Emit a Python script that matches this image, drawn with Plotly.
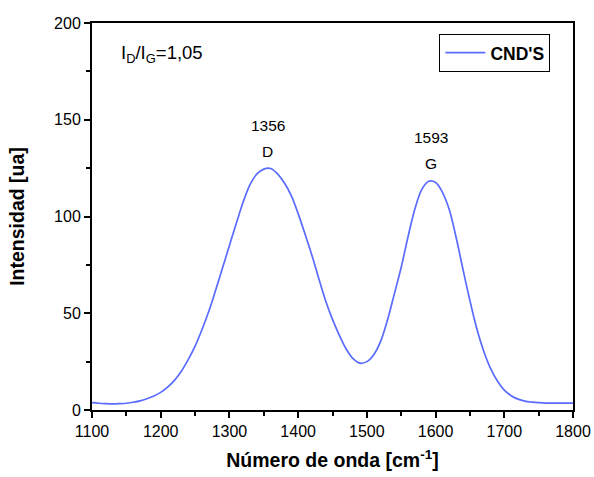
import plotly.graph_objects as go

wavenumber = [1100, 1110, 1120, 1130, 1140, 1150, 1160, 1170, 1180, 1190,
              1200, 1210, 1220, 1230, 1240, 1250, 1260, 1270, 1280, 1290,
              1300, 1310, 1320, 1330, 1340, 1350, 1360, 1370, 1380, 1390,
              1400, 1410, 1420, 1430, 1440, 1450, 1460, 1470, 1480, 1490,
              1500, 1510, 1520, 1530, 1540, 1550, 1560, 1570, 1580, 1590,
              1600, 1610, 1620, 1630, 1640, 1650, 1660, 1670, 1680, 1690,
              1700, 1710, 1720, 1730, 1740, 1750, 1760, 1770, 1780, 1790, 1800]
intensity = [3.8, 3.5, 3.3, 3.2, 3.3, 3.5, 4.0, 4.7, 5.8, 7.2,
             9.1, 11.8, 15.3, 20.0, 26.0, 33.0, 41.5, 51.0, 62.0, 73.5,
             85.0, 96.5, 107.5, 116.5, 122.0, 124.5, 124.8, 122.0, 117.3, 110.8,
             101.5, 91.0, 80.0, 68.0, 56.5, 46.8, 38.6, 31.5, 26.5, 24.2,
             25.0, 28.6, 35.5, 46.5, 60.0, 73.8, 89.7, 104.0, 114.0, 118.2,
             117.6, 112.5, 103.5, 89.0, 72.5, 56.5, 42.0, 30.5, 21.5, 15.0,
             10.3, 7.4, 5.6, 4.6, 4.1, 3.8, 3.6, 3.6, 3.6, 3.6, 3.6]
series_name = "CND'S"
peak_positions = [1356, 1593]
peak_names = ["D", "G"]
peak_number_y = [146.8, 140.7]
peak_name_y = [133.5, 127.5]
ratio_text = "I<sub>D</sub>/I<sub>G</sub>=1,05"

blue = "#5a6cff"
font_family = "Liberation Sans, Arial, sans-serif"

fig = go.Figure()
fig.add_trace(go.Scatter(x=wavenumber, y=intensity, mode="lines",
                         name="<b>" + series_name + "</b>",
                         line=dict(color=blue, width=1.7, shape="spline", smoothing=1.0)))

for pos, nm, ny, ly in zip(peak_positions, peak_names, peak_number_y, peak_name_y):
    fig.add_annotation(x=pos, y=ny, text=str(pos), showarrow=False,
                       font=dict(size=15.5, color="black", family=font_family),
                       xanchor="center", yanchor="middle")
    fig.add_annotation(x=pos, y=ly, text=nm, showarrow=False,
                       font=dict(size=15.5, color="black", family=font_family),
                       xanchor="center", yanchor="middle")

fig.add_annotation(x=1140, y=184, text=ratio_text, showarrow=False,
                   xanchor="left", yanchor="middle",
                   font=dict(size=18.5, color="black", family=font_family))

axis_common = dict(showline=True, linecolor="black", linewidth=2, mirror=True,
                   ticks="outside", ticklen=6, tickwidth=2, tickcolor="black",
                   showgrid=False, zeroline=False, automargin=False,
                   tickfont=dict(size=16, color="black", family=font_family))

fig.update_xaxes(range=[1100, 1800], dtick=100, tick0=1100,
                 minor=dict(ticks="outside", ticklen=4, tickwidth=2, tickcolor="black", dtick=50),
                 title=dict(text="<b>Número de onda [cm<sup>-1</sup>]</b>",
                            font=dict(size=19.5, color="black", family=font_family), standoff=14),
                 **axis_common)
fig.update_yaxes(range=[0, 200], dtick=50,
                 minor=dict(ticks="outside", ticklen=4, tickwidth=2, tickcolor="black", dtick=25),
                 title=dict(text="<b>Intensidad [ua]</b>",
                            font=dict(size=19.5, color="black", family=font_family), standoff=24),
                 **axis_common)

fig.update_layout(width=594, height=477, margin=dict(l=92, r=21, t=23, b=67),
                  plot_bgcolor="white", paper_bgcolor="white",
                  showlegend=True,
                  legend=dict(x=0.953, y=0.972, xanchor="right", yanchor="top",
                              bordercolor="black", borderwidth=1, bgcolor="white",
                              font=dict(size=17.5, color="black", family=font_family),
                              itemwidth=40),
                  font=dict(family=font_family))

fig.write_html("out.html", config={"displayModeBar": False},
               post_script="document.body.style.margin='0';document.body.style.overflow='hidden';")
